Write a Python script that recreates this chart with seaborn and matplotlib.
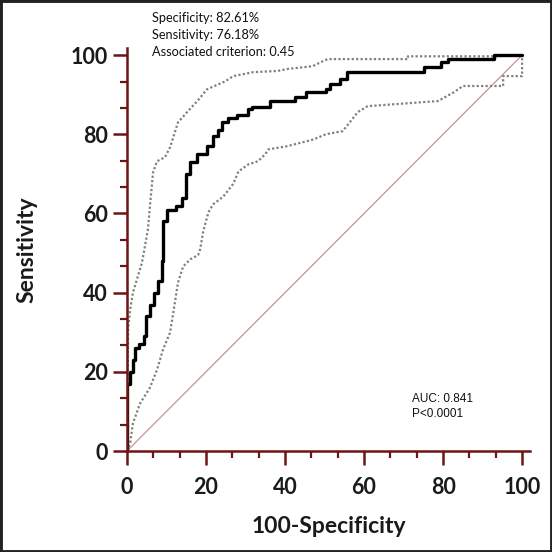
import matplotlib
matplotlib.use('Agg')
import matplotlib.pyplot as plt
from matplotlib.patches import Rectangle
from matplotlib.ticker import MultipleLocator
import pandas as pd
import seaborn as sns

# ROC curve (100-Specificity vs Sensitivity)
roc_x = [0, 0, 0.8, 1.5, 2.0, 3.0, 4.3, 4.8, 5.8, 6.9, 7.9, 8.9, 9.1, 10.2, 12.4, 14.0,
         15.0, 16.0, 17.8, 20.3, 21.8, 23.1, 24.1, 25.6, 27.9, 30.5, 31.7, 36.3, 42.6,
         45.2, 50.3, 51.5, 54.0, 55.8, 75.1, 79.4, 81.2, 92.9, 100]
roc_y = [0, 17, 20, 23, 26, 27, 29, 34, 37, 40, 43, 48, 58, 61, 62, 64,
         70, 73, 75, 77, 79.5, 81, 83, 84, 85, 86.3, 87, 88.3, 89.4,
         90.6, 91.4, 92.7, 94, 95.7, 97, 98.2, 99, 100, 100]

# upper 95% confidence bound
upper_x = [0, 0.3, 0.8, 1.5, 2.5, 3.8, 5.3, 5.8, 6.6, 7.6, 9.6, 10.9, 12.9, 15.2, 17.8,
           20.3, 24.9, 26.9, 32.0, 38.1, 40.6, 47.0, 49.0, 50.8, 71.1, 71.1, 92.9, 100]
upper_y = [0, 31, 35.7, 40, 43.3, 47.6, 56, 61.8, 70.4, 73.2, 74.2, 76.7, 83, 85.6, 88.4,
           91.4, 93.4, 94.7, 95.7, 96, 96.5, 97.2, 98.2, 99, 99, 99.7, 99.7, 100]

# lower 95% confidence bound
lower_x = [0, 0.8, 1.5, 3.3, 5.8, 7.6, 9.1, 10.9, 12.2, 12.9, 14.2, 16.0, 18.0, 18.5,
           19.3, 20.6, 21.8, 24.4, 26.9, 28.2, 30.7, 33.2, 35.0, 35.8, 40.6, 47.2, 50.3,
           54.6, 56.6, 58.4, 60.9, 78.7, 82.7, 85.0, 95.2, 95.2, 100, 100]
lower_y = [0, 2, 7, 12, 16, 20.5, 25.6, 29.9, 38, 42.5, 46.6, 48.4, 49.5, 50.9,
           55.5, 60.3, 62.3, 64.3, 67.5, 70.6, 72.4, 73.2, 75, 76.2, 77, 78.7, 80,
           80.8, 83.3, 85.6, 87.1, 88.4, 90.6, 92.2, 92.2, 94.7, 94.7, 100]

diag = [0, 100]

sns.set_style('white')
plt.rcParams['font.family'] = ['Lato', 'DejaVu Sans']

fig = plt.figure(figsize=(5.52, 5.52), dpi=100)
ax = fig.add_axes([127 / 552, 101 / 552, 403 / 552, 403 / 552])

axis_red = '#6e1414'

# diagonal reference line
sns.lineplot(x=diag, y=diag, ax=ax, color='#c99090', lw=0.9, estimator=None, sort=False)

# confidence bounds
ci_df = pd.DataFrame({'x': upper_x, 'y': upper_y})
sns.lineplot(data=ci_df, x='x', y='y', ax=ax, color='#808080', lw=1.6, ls=(0, (1, 1)),
             estimator=None, sort=False)
ci_df = pd.DataFrame({'x': lower_x, 'y': lower_y})
sns.lineplot(data=ci_df, x='x', y='y', ax=ax, color='#808080', lw=1.6, ls=(0, (1, 1)),
             estimator=None, sort=False)

# ROC curve
roc_df = pd.DataFrame({'x': roc_x, 'y': roc_y})
sns.lineplot(data=roc_df, x='x', y='y', ax=ax, color='black', lw=2.4,
             drawstyle='steps-post', estimator=None, sort=False)

ax.set_xlim(0, 102)
ax.set_ylim(0, 101.8)
ax.xaxis.set_major_locator(MultipleLocator(20))
ax.xaxis.set_minor_locator(MultipleLocator(20 / 3))
ax.yaxis.set_major_locator(MultipleLocator(20))
ax.yaxis.set_minor_locator(MultipleLocator(20 / 3))

for side in ['top', 'right']:
    ax.spines[side].set_visible(False)
for side in ['left', 'bottom']:
    ax.spines[side].set_color(axis_red)
    ax.spines[side].set_linewidth(1.8)

ax.tick_params(which='major', direction='out', length=10, width=1.8, color=axis_red,
               labelsize=15.5, labelcolor='#1a1a1a', left=True, bottom=True)
ax.tick_params(axis='x', which='major', pad=9)
ax.tick_params(axis='y', which='major', pad=4)
ax.tick_params(which='minor', direction='out', length=5, width=1.6, color=axis_red,
               left=True, bottom=True)
for lab in ax.get_xticklabels() + ax.get_yticklabels():
    lab.set_fontweight('bold')

ax.set_xlabel('100-Specificity', fontsize=16.5, fontweight='bold', color='#1a1a1a', labelpad=13)
ax.set_ylabel('Sensitivity', fontsize=16.5, fontweight='bold', color='#1a1a1a', labelpad=24)

# annotations
fig.text(152 / 552, 1 - 18 / 552, 'Specificity: 82.61%', fontsize=9.2, va='center', color='#111111')
fig.text(152 / 552, 1 - 35 / 552, 'Sensitivity: 76.18%', fontsize=9.2, va='center', color='#111111')
fig.text(152 / 552, 1 - 52 / 552, 'Associated criterion: 0.45', fontsize=9.2, va='center', color='#111111')
fig.text(412 / 552, 1 - 399 / 552, 'AUC: 0.841', fontsize=8.5, va='center', color='#111111',
         family='Liberation Sans')
fig.text(412 / 552, 1 - 414 / 552, 'P<0.0001', fontsize=8.5, va='center', color='#111111',
         family='Liberation Sans')

# dark frame around the picture
fig.patches.append(Rectangle((0, 0), 1, 1, transform=fig.transFigure, fill=False,
                             edgecolor='#222222', linewidth=3.5))

fig.savefig('out.png', dpi=100)
